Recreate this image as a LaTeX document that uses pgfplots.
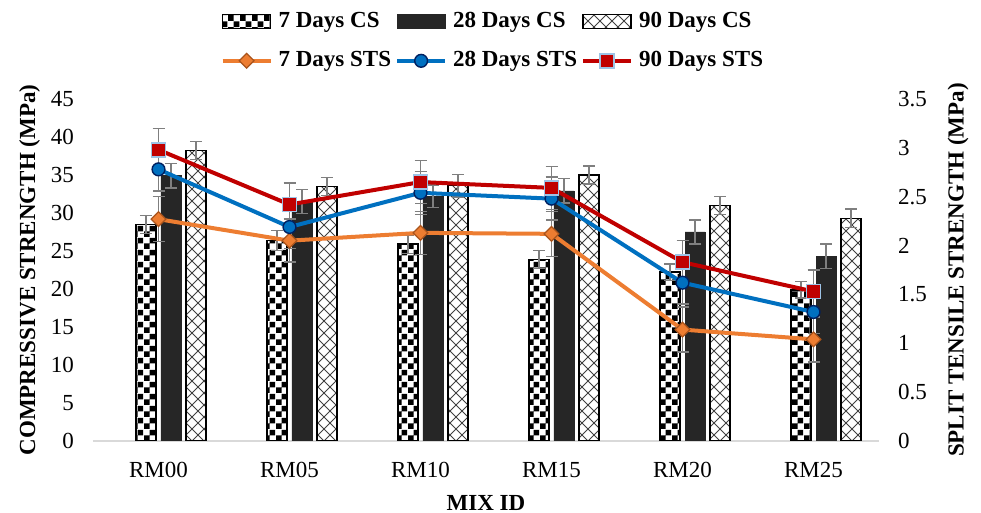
\documentclass[border=0pt]{standalone}
\usepackage{pgfplots}
\pgfplotsset{compat=1.18}
\usepackage{pgfplotstable}
\usepackage{fontspec}
\setmainfont{Liberation Serif}
\usetikzlibrary{patterns}

\definecolor{darkbar}{HTML}{262626}
\definecolor{errgray}{HTML}{7F7F7F}
\definecolor{axisgray}{HTML}{D9D9D9}
\definecolor{sts7}{HTML}{ED7D31}
\definecolor{sts7edge}{HTML}{A9541C}
\definecolor{sts28}{HTML}{0070C0}
\definecolor{sts28edge}{HTML}{002060}
\definecolor{sts90}{HTML}{C00000}
\definecolor{sts90edge}{HTML}{9DC3E6}

\newcommand{\basefont}{\fontsize{11.5}{13.5}\selectfont}
\newcommand{\boldfont}{\fontsize{11.5}{13.5}\selectfont\bfseries}

% small checkerboard fill
\pgfdeclarepatternformonly{checks}{\pgfpointorigin}{\pgfqpoint{6pt}{6pt}}{\pgfqpoint{6pt}{6pt}}{%
  \pgfpathrectangle{\pgfpointorigin}{\pgfqpoint{3pt}{3pt}}%
  \pgfpathrectangle{\pgfqpoint{3pt}{3pt}}{\pgfqpoint{3pt}{3pt}}%
  \pgfusepath{fill}}
% diagonal lattice fill
\pgfdeclarepatternformonly{diamondgrid}{\pgfqpoint{-0.5pt}{-0.5pt}}{\pgfqpoint{6.5pt}{6.5pt}}{\pgfqpoint{6pt}{6pt}}{%
  \pgfsetlinewidth{0.5pt}%
  \pgfpathmoveto{\pgfpointorigin}\pgfpathlineto{\pgfqpoint{6pt}{6pt}}%
  \pgfpathmoveto{\pgfqpoint{0pt}{6pt}}\pgfpathlineto{\pgfqpoint{6pt}{0pt}}%
  \pgfusepath{stroke}}

% compressive strength (MPa) with error
\pgfplotstableread{
x  cs7   e7   cs28  e28  cs90  e90
0  28.5  1.2  34.9  1.6  38.2  1.2
1  26.4  1.3  31.5  1.6  33.5  1.2
2  25.9  1.2  32.2  1.5  33.6  1.5
3  23.9  1.2  32.9  1.6  35.0  1.2
4  22.2  1.1  27.5  1.6  31.0  1.2
5  19.9  1.1  24.3  1.6  29.3  1.2
}\cstable

% split tensile strength (MPa) with error
\pgfplotstableread{
x  s7    es7   s28   es28  s90   es90
0  2.27  0.23  2.78  0.22  2.98  0.22
1  2.05  0.22  2.19  0.22  2.42  0.22
2  2.13  0.22  2.54  0.22  2.65  0.22
3  2.12  0.23  2.48  0.22  2.59  0.22
4  1.14  0.23  1.62  0.22  1.83  0.22
5  1.04  0.23  1.32  0.22  1.53  0.22
}\ststable

\pgfplotsset{
  errstyle/.style={
    error bars/.cd, y dir=both, y explicit,
    error bar style={errgray, line width=0.7pt},
    error mark options={errgray, rotate=90, mark size=3pt, line width=0.7pt}},
  barlegend/.style={legend image code/.code={%
    \draw[##1] (0pt,-3.5pt) rectangle (24pt,3.5pt);}},
  linelegend/.style={legend image code/.code={%
    \draw[mark repeat=2,mark phase=2,##1] plot coordinates {(0pt,0pt) (12pt,0pt) (24pt,0pt)};}},
}

\begin{document}
\begin{tikzpicture}
\useasboundingbox (-46.5pt,-36pt) rectangle (444pt,220.5pt);

\begin{axis}[
  scale only axis, width=393pt, height=171pt,
  xmin=-0.5, xmax=5.5, ymin=0, ymax=45,
  axis x line*=bottom, axis y line*=left,
  x axis line style={draw=axisgray, line width=1pt, -},
  y axis line style={draw=none},
  xtick={0,...,5},
  xticklabels={RM00,RM05,RM10,RM15,RM20,RM25},
  ytick={0,5,...,45},
  major tick length=0pt,
  tick label style={font=\basefont},
  /pgf/number format/assume math mode=true,
  yticklabel style={xshift=-6pt},
  xticklabel style={yshift=-7pt},
  xlabel={MIX ID},
  ylabel={COMPRESSIVE STRENGTH (MPa)},
  every axis x label/.style={at={(axis description cs:0.5,0)}, anchor=center, yshift=-31pt, font=\boldfont},
  every axis y label/.style={at={(axis description cs:-0.0805,0.5)}, anchor=center, rotate=90, font=\boldfont},
  ybar, bar width=10pt,
]
\addplot[draw=black, line width=0.8pt, pattern=checks, pattern color=black,
  bar shift=-6.25pt, errstyle]
  table[x=x, y=cs7, y error=e7]{\cstable};
\addplot[draw=darkbar, fill=darkbar, line width=0.4pt,
  bar shift=6.25pt, errstyle]
  table[x=x, y=cs28, y error=e28]{\cstable};
\addplot[draw=black, line width=0.8pt, pattern=diamondgrid, pattern color=black!75,
  bar shift=18.75pt, errstyle]
  table[x=x, y=cs90, y error=e90]{\cstable};
\end{axis}

\begin{axis}[
  scale only axis, width=393pt, height=171pt,
  xmin=-0.5, xmax=5.5, ymin=0, ymax=3.5,
  axis x line=none, axis y line*=right,
  y axis line style={draw=none},
  ytick={0,0.5,1,1.5,2,2.5,3,3.5},
  major tick length=0pt,
  tick label style={font=\basefont},
  /pgf/number format/assume math mode=true,
  yticklabel style={xshift=6pt, /pgf/number format/fixed},
  ylabel={SPLIT TENSILE STRENGTH (MPa)},
  every axis y label/.style={at={(axis description cs:1.1005,0.5)}, anchor=center, rotate=90, font=\boldfont},
  legend columns=3,
  legend style={draw=none, fill=none, font=\boldfont,
    at={(axis description cs:0.51,1.072)}, anchor=south,
    /tikz/every even column/.append style={column sep=0pt},
    /tikz/every odd column/.append style={column sep=1pt},
    row sep=6.5pt, inner sep=0pt},
  legend cell align=left,
]
\addlegendimage{barlegend, draw=black, line width=0.8pt, pattern=checks, pattern color=black}
\addlegendentry{7 Days CS}
\addlegendimage{barlegend, draw=darkbar, fill=darkbar}
\addlegendentry{28 Days CS}
\addlegendimage{barlegend, draw=black, line width=0.8pt, pattern=diamondgrid, pattern color=black!75}
\addlegendentry{90 Days CS}

\addplot[sts7, line width=2pt, mark=square*, mark size=2.6pt, linelegend,
  mark options={rotate=45, fill=sts7, draw=sts7edge, line width=0.6pt}, errstyle]
  table[x=x, y=s7, y error=es7]{\ststable};
\addlegendentry{7 Days STS}
\addplot[sts28, line width=2pt, mark=*, mark size=3.2pt, linelegend,
  mark options={fill=sts28, draw=sts28edge, line width=0.7pt}, errstyle]
  table[x=x, y=s28, y error=es28]{\ststable};
\addlegendentry{28 Days STS}
\addplot[sts90, line width=2pt, mark=square*, mark size=3.5pt, linelegend,
  mark options={fill=sts90, draw=sts90edge, line width=0.7pt}, errstyle]
  table[x=x, y=s90, y error=es90]{\ststable};
\addlegendentry{90 Days STS}
\end{axis}
\end{tikzpicture}
\end{document}
